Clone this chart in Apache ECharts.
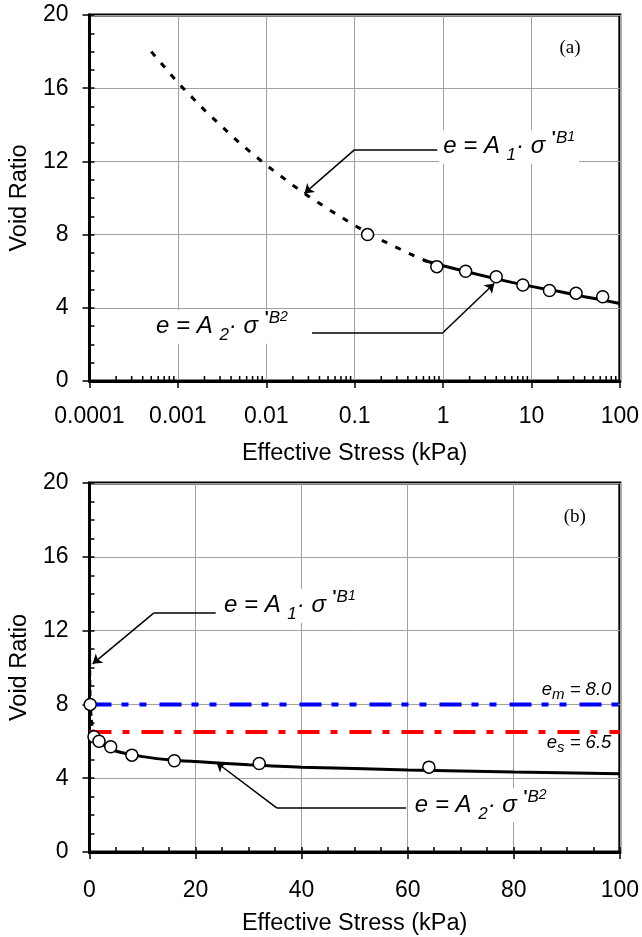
<!DOCTYPE html>
<html>
<head>
<meta charset="utf-8">
<script src="https://cdn.jsdelivr.net/npm/echarts@6/dist/echarts.min.js"></script>
<style>
  html, body { margin: 0; padding: 0; background: #fff; }
  #chart { width: 642px; height: 937px; }
</style>
</head>
<body>
<div id="chart"></div>
<script>
// measured points (same test, shown on both panels)
const stress = [0.14, 0.85, 1.8, 4, 8, 16, 32, 64];
const voidRatio = [8.0, 6.25, 6.0, 5.7, 5.25, 4.95, 4.8, 4.6];

// curve e = A1·σ'^B1 (dashed)
const fit1Stress = [0.0005, 0.001, 0.002, 0.003, 0.005, 0.01, 0.02, 0.03, 0.05, 0.1, 0.2, 0.4, 0.65];
const fit1Void = [18.0, 16.3, 14.8, 14.0, 13.0, 11.8, 10.7, 10.1, 9.4, 8.5, 7.7, 7.0, 6.55];

// curve e = A2·σ'^B2 (solid)
const fit2Stress = [0.6, 1, 2, 4, 6, 10, 15, 20, 30, 40, 60, 80, 100];
const fit2Void = [6.6, 6.3, 5.93, 5.58, 5.39, 5.17, 5.0, 4.9, 4.73, 4.6, 4.45, 4.33, 4.24];

// horizontal reference levels
const eM = 8.0;
const eS = 6.5;

// tick labels
const logTickLabels = ['0.0001', '0.001', '0.01', '0.1', '1', '10', '100'];
const logMinorMult = [2, 3, 4, 5, 6, 7, 8, 9];

const FONT = 'Liberation Sans';
const pairs = (xs, ys) => xs.map((x, i) => [x, ys[i]]);

const logMinor = [];
for (let d = -4; d < 2; d++) {
  logMinorMult.forEach(m => logMinor.push([m * Math.pow(10, d), 0]));
}

const chart = echarts.init(document.getElementById('chart'));

const axisText = { fontFamily: FONT, fontSize: 23, color: '#000' };
const nameText = { fontFamily: FONT, fontSize: 23.5, color: '#000' };
const frame = { show: true, lineStyle: { color: '#000', width: 3 } };
const grid = { lineStyle: { color: '#a0a0a0', width: 1 } };
const majorTick = { show: true, length: 7, lineStyle: { color: '#000', width: 1.5 } };
const minorTick = { show: true, inside: true, length: 5, lineStyle: { color: '#000', width: 1.5 } };

const yMain = (g) => ({
  type: 'value', gridIndex: g, position: 'left', min: 0, max: 20, interval: 4,
  name: 'Void Ratio', nameLocation: 'middle', nameGap: 54, nameTextStyle: nameText,
  axisLine: frame, axisTick: majorTick,
  axisLabel: Object.assign({ margin: 21 }, axisText),
  splitLine: grid
});
const yMinor = (g) => ({
  type: 'value', gridIndex: g, position: 'left', min: 0, max: 20, interval: 1,
  axisLine: { show: false }, axisTick: minorTick, axisLabel: { show: false }, splitLine: { show: false }
});

const circles = {
  symbol: 'circle', symbolSize: 12,
  itemStyle: { color: '#fff', opacity: 1, borderColor: '#000', borderWidth: 1.5 }
};
const leaderStyle = { color: '#000', width: 1.5, opacity: 1 };

const option = {
  animation: false,
  backgroundColor: '#fff',
  grid: [
    { left: 88, width: 532, top: 15, height: 366, show: true, borderColor: '#000', borderWidth: 3 },
    { left: 88, width: 533, top: 483, height: 370, show: true, borderColor: '#000', borderWidth: 3 }
  ],
  xAxis: [
    {
      type: 'log', logBase: 10, gridIndex: 0, position: 'bottom', min: 0.0001, max: 100, splitNumber: 6,
      name: 'Effective Stress (kPa)', nameLocation: 'middle', nameGap: 61, nameTextStyle: nameText,
      axisLine: frame, axisTick: majorTick,
      axisLabel: Object.assign({
        margin: 24,
        formatter: v => logTickLabels[Math.round(Math.log10(v)) + 4]
      }, axisText),
      splitLine: grid
    },
    {
      type: 'value', gridIndex: 1, position: 'bottom', min: 0, max: 100, interval: 20,
      name: 'Effective Stress (kPa)', nameLocation: 'middle', nameGap: 60, nameTextStyle: nameText,
      axisLine: frame, axisTick: majorTick,
      axisLabel: Object.assign({ margin: 27 }, axisText),
      splitLine: grid
    },
    {
      type: 'value', gridIndex: 1, position: 'bottom', min: 0, max: 100, interval: 5,
      axisLine: { show: false }, axisTick: minorTick, axisLabel: { show: false }, splitLine: { show: false }
    }
  ],
  yAxis: [yMain(0), yMinor(0), yMain(1), yMinor(1)],
  series: [
    // ---- panel (a) ----
    {
      type: 'line', xAxisIndex: 0, yAxisIndex: 0, data: pairs(fit1Stress, fit1Void),
      symbol: 'none', lineStyle: { color: '#000', width: 3, type: [6, 9] }, z: 3
    },
    {
      type: 'line', xAxisIndex: 0, yAxisIndex: 0, data: pairs(fit2Stress, fit2Void),
      symbol: 'none', lineStyle: { color: '#000', width: 3 }, z: 3
    },
    Object.assign({ type: 'scatter', xAxisIndex: 0, yAxisIndex: 0, data: pairs(stress, voidRatio), z: 5 }, circles),
    {
      type: 'lines', coordinateSystem: 'cartesian2d', xAxisIndex: 0, yAxisIndex: 0,
      lineStyle: leaderStyle, symbolSize: 9, z: 4,
      data: [
        { coords: [[0.86, 12.64], [0.1, 12.64]], symbol: 'none' },
        { coords: [[0.1, 12.64], [0.027, 10.25]], symbol: ['none', 'arrow'] },
        { coords: [[0.033, 2.65], [1, 2.65]], symbol: 'none' },
        { coords: [[1, 2.65], [3.8, 5.33]], symbol: ['none', 'arrow'] }
      ]
    },
    {
      type: 'custom', xAxisIndex: 0, yAxisIndex: 0, data: logMinor, silent: true, z: 4,
      renderItem: (params, api) => {
        const p = api.coord([api.value(0), 0]);
        return { type: 'line', shape: { x1: p[0], y1: p[1], x2: p[0], y2: p[1] - 5 },
          style: { stroke: '#000', lineWidth: 1.5 } };
      }
    },
    // ---- panel (b) ----
    {
      type: 'line', xAxisIndex: 1, yAxisIndex: 2, data: [[0, eM], [100, eM]],
      symbol: 'none', lineStyle: { color: '#0000ff', width: 4, type: [22, 10, 7, 11, 7, 13] }, z: 2
    },
    {
      type: 'line', xAxisIndex: 1, yAxisIndex: 2, data: [[0, eS], [100, eS]],
      symbol: 'none', lineStyle: { color: '#ff0000', width: 4, type: [22, 11, 7, 12] }, z: 2
    },
    {
      type: 'line', xAxisIndex: 1, yAxisIndex: 2, data: pairs(fit1Stress, fit1Void),
      symbol: 'none', lineStyle: { color: '#000', width: 3, type: [6, 4] }, z: 3
    },
    {
      type: 'line', xAxisIndex: 1, yAxisIndex: 2, data: pairs(fit2Stress, fit2Void), smooth: 0.3,
      symbol: 'none', lineStyle: { color: '#000', width: 3 }, z: 3
    },
    Object.assign({ type: 'scatter', xAxisIndex: 1, yAxisIndex: 2, data: pairs(stress, voidRatio), z: 5 }, circles),
    {
      type: 'lines', coordinateSystem: 'cartesian2d', xAxisIndex: 1, yAxisIndex: 2,
      lineStyle: leaderStyle, symbolSize: 9, z: 4,
      data: [
        { coords: [[23.8, 12.95], [12.1, 12.95]], symbol: 'none' },
        { coords: [[12.1, 12.95], [0.6, 10.2]], symbol: ['none', 'arrow'] },
        { coords: [[59.7, 2.39], [35.3, 2.39]], symbol: 'none' },
        { coords: [[35.3, 2.39], [23.95, 4.85]], symbol: ['none', 'arrow'] }
      ]
    }
  ]
};

chart.setOption(option);

// annotation texts, placed in data coordinates
const toPx = (xi, yi, pt) => chart.convertToPixel({ xAxisIndex: xi, yAxisIndex: yi }, pt);
const formulaRich = {
  m: { fontFamily: FONT, fontSize: 24, fontStyle: 'italic', color: '#000', lineHeight: 34 },
  sb: { fontFamily: FONT, fontSize: 17, fontStyle: 'italic', color: '#000', lineHeight: 25, verticalAlign: 'bottom' },
  sp: { fontFamily: FONT, fontSize: 17, fontStyle: 'italic', color: '#000', lineHeight: 23, verticalAlign: 'top' },
  pr: { fontFamily: FONT, fontSize: 17, fontWeight: 'bold', color: '#000', lineHeight: 23, verticalAlign: 'top' },
  ss: { fontFamily: FONT, fontSize: 14, fontStyle: 'italic', color: '#000', lineHeight: 27, verticalAlign: 'top' }
};
const formula = (n, p) => ({
  type: 'text', x: p[0], y: p[1], z: 20,
  style: {
    text: `{m|e = A }{sb|${n}}{m|· σ }{pr|'}{sp|B}{ss|${n}}`,
    rich: formulaRich, align: 'left', verticalAlign: 'middle',
    backgroundColor: '#fff', padding: [0, 4]
  }
});
const levelLabel = (sub, val, color, p) => ({
  type: 'text', x: p[0], y: p[1], z: 20,
  style: {
    text: `{i|e}{s|${sub}}{i| = ${val}}`, align: 'right', verticalAlign: 'middle',
    rich: {
      i: { fontFamily: FONT, fontSize: 18.5, fontStyle: 'italic', color: color, lineHeight: 26 },
      s: { fontFamily: FONT, fontSize: 15, fontStyle: 'italic', color: color, lineHeight: 17, verticalAlign: 'bottom' }
    }
  }
});
const panelTag = (t, p) => ({
  type: 'text', x: p[0], y: p[1], z: 20,
  style: { text: t, fontFamily: 'Liberation Serif', fontSize: 19, fill: '#000', align: 'center', verticalAlign: 'middle' }
});

chart.setOption({
  graphic: [
    formula(1, toPx(0, 0, [0.905, 12.8])),
    formula(2, toPx(0, 0, [0.00051, 2.97])),
    formula(1, toPx(1, 2, [24.6, 13.35])),
    formula(2, toPx(1, 2, [60.6, 2.53])),
    levelLabel('m', eM.toFixed(1), '#0000ff', toPx(1, 2, [98.4, 8.81])),
    levelLabel('s', eS.toFixed(1), '#ff0000', toPx(1, 2, [98.4, 5.93])),
    panelTag('(a)', toPx(0, 0, [27.3, 18.18])),
    panelTag('(b)', toPx(1, 2, [91.5, 18.15]))
  ]
});
</script>
</body>
</html>
